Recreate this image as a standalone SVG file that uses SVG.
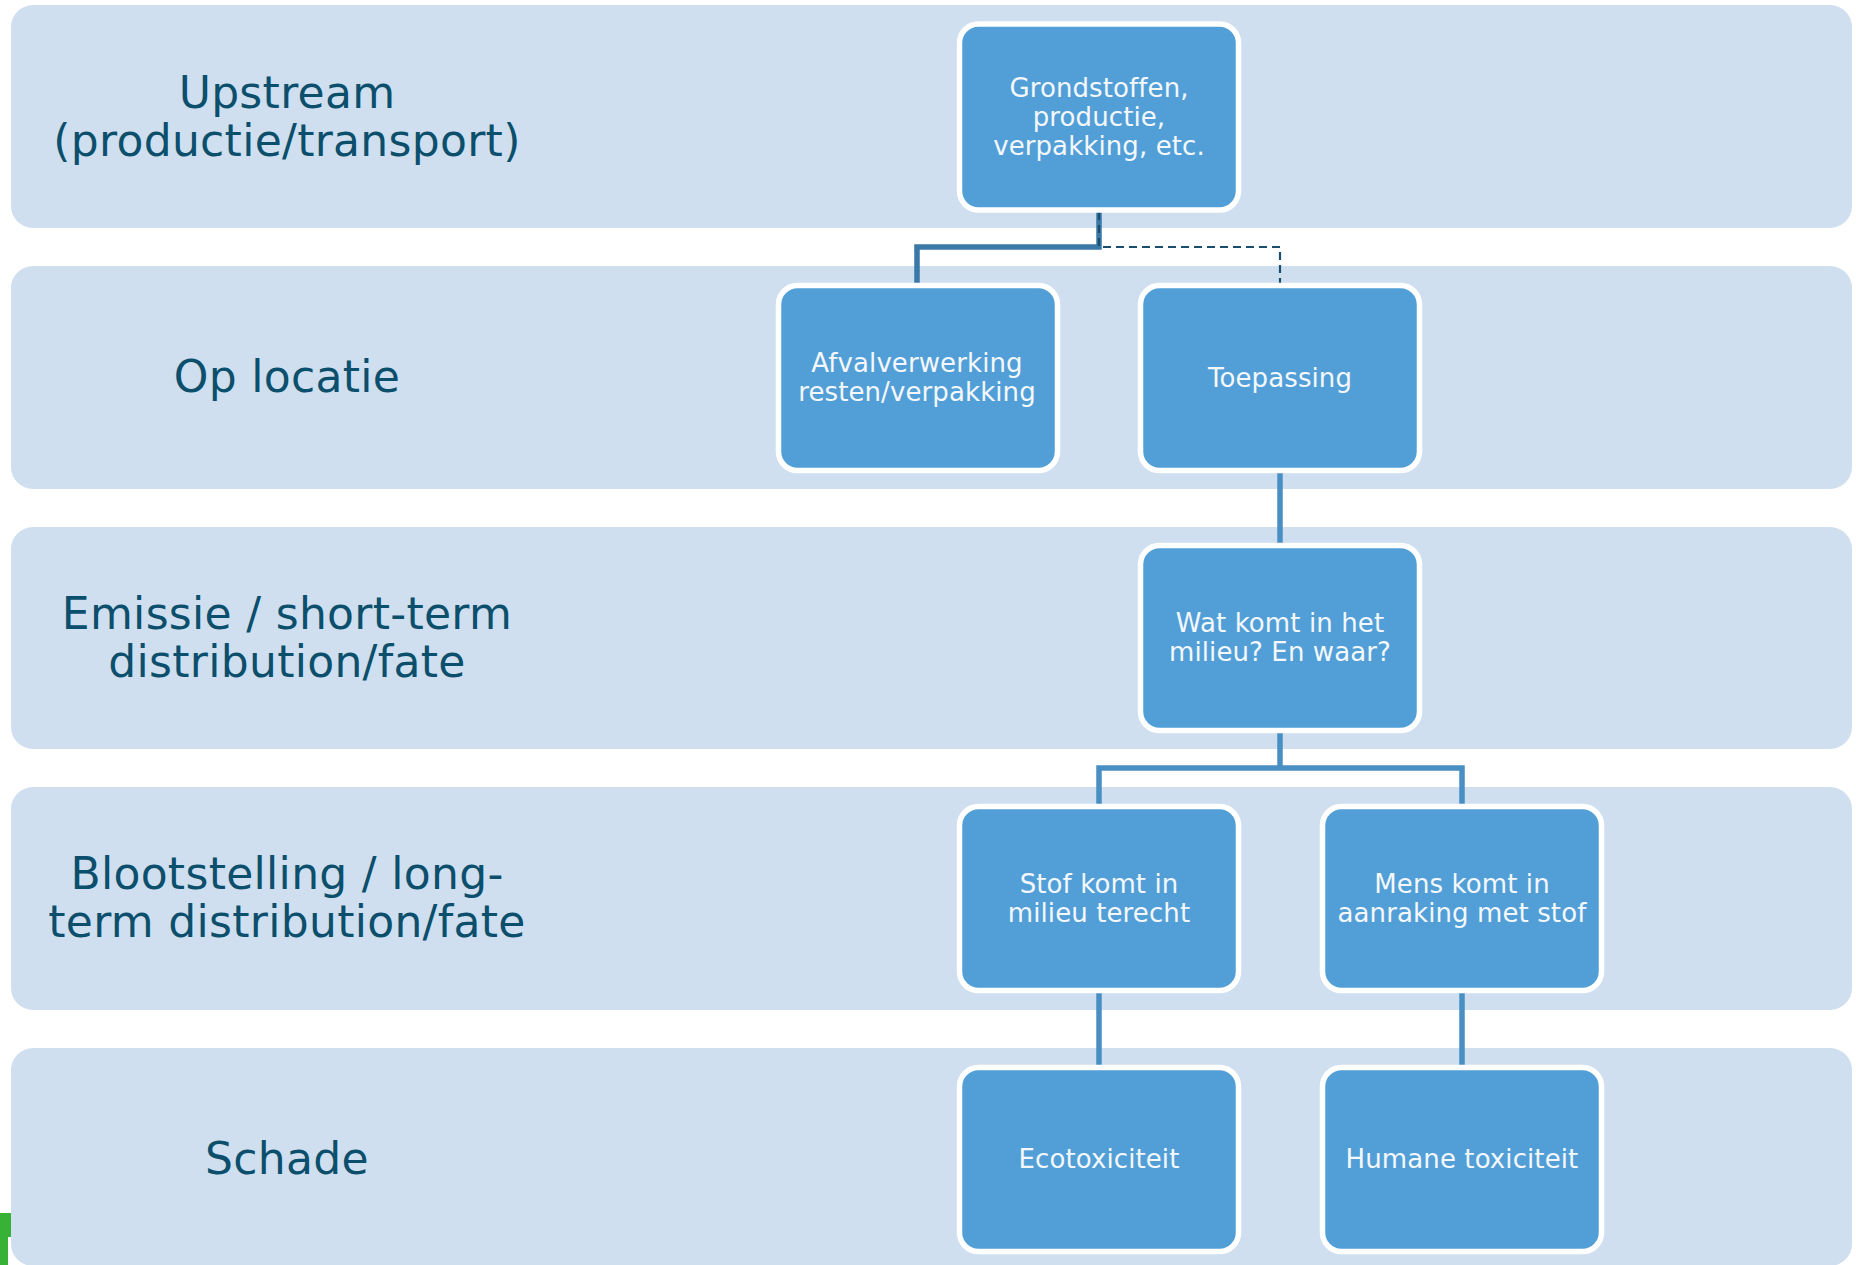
<svg xmlns="http://www.w3.org/2000/svg" width="1856" height="1265" viewBox="0 0 1856 1265">
<style>
.band{fill:#cfdfef}
.lbl{font-family:"DejaVu Sans",Verdana,sans-serif;font-size:44px;fill:#0b4f6c;text-anchor:middle;letter-spacing:0.3px}
.node rect{fill:#529fd7;stroke:#ffffff;stroke-width:5.5}
.node text{font-family:"DejaVu Sans",Verdana,sans-serif;font-size:26px;fill:#f4f8fc;text-anchor:middle;letter-spacing:0.1px}
.conn{fill:none;stroke:#4a8fc4;stroke-width:5.5}
.conn-dark{fill:none;stroke:#3a78a8;stroke-width:5.5}
.dash{fill:none;stroke:#1a4e6e;stroke-width:2.2;stroke-dasharray:8 5}
</style>
<rect width="1856" height="1265" fill="#ffffff"/>
<rect x="0" y="1213" width="11" height="24" fill="#37b236"/>
<rect x="0" y="1237" width="8" height="28" fill="#37b236"/>
<g id="bands">
<rect class="band" x="11" y="5" width="1841" height="223" rx="22"/>
<rect class="band" x="11" y="266" width="1841" height="223" rx="22"/>
<rect class="band" x="11" y="527" width="1841" height="222" rx="22"/>
<rect class="band" x="11" y="787" width="1841" height="223" rx="22"/>
<rect class="band" x="11" y="1048" width="1841" height="218" rx="22"/>
</g>
<g id="labels">
<text class="lbl" x="287" y="108">Upstream</text>
<text class="lbl" x="287" y="156">(productie/transport)</text>
<text class="lbl" x="287" y="392">Op locatie</text>
<text class="lbl" x="287" y="629">Emissie / short-term</text>
<text class="lbl" x="287" y="677">distribution/fate</text>
<text class="lbl" x="287" y="889">Blootstelling / long-</text>
<text class="lbl" x="287" y="937">term distribution/fate</text>
<text class="lbl" x="287" y="1174">Schade</text>
</g>
<g id="connectors">
<path class="conn-dark" d="M1099,212 V247 H917 V284"/>
<path class="dash" d="M1099,212 V247 H1280 V284"/>
<path class="conn" d="M1280,472 V544"/>
<path class="conn" d="M1280,732 V768 M1099,805 V768 H1462 V805"/>
<path class="conn" d="M1099,991 V1066"/>
<path class="conn" d="M1462,991 V1066"/>
</g>
<g id="node-grondstoffen" class="node">
<rect x="959.5" y="24" width="279" height="186" rx="19"/>
<text x="1099" y="97">Grondstoffen,</text>
<text x="1099" y="126">productie,</text>
<text x="1099" y="155">verpakking, etc.</text>
</g>
<g id="node-afval" class="node">
<rect x="778.5" y="285.5" width="279" height="185" rx="19"/>
<text x="917" y="372">Afvalverwerking</text>
<text x="917" y="401">resten/verpakking</text>
</g>
<g id="node-toepassing" class="node">
<rect x="1140.5" y="285.5" width="279" height="185" rx="19"/>
<text x="1280" y="387">Toepassing</text>
</g>
<g id="node-watkomt" class="node">
<rect x="1140.5" y="545.5" width="279" height="185" rx="19"/>
<text x="1280" y="632">Wat komt in het</text>
<text x="1280" y="661">milieu? En waar?</text>
</g>
<g id="node-stof" class="node">
<rect x="959.5" y="806.5" width="279" height="184" rx="19"/>
<text x="1099" y="893">Stof komt in</text>
<text x="1099" y="922">milieu terecht</text>
</g>
<g id="node-mens" class="node">
<rect x="1322.5" y="806.5" width="279" height="184" rx="19"/>
<text x="1462" y="893">Mens komt in</text>
<text x="1462" y="922">aanraking met stof</text>
</g>
<g id="node-ecotox" class="node">
<rect x="959.5" y="1067.5" width="279" height="184" rx="19"/>
<text x="1099" y="1168">Ecotoxiciteit</text>
</g>
<g id="node-humane" class="node">
<rect x="1322.5" y="1067.5" width="279" height="184" rx="19"/>
<text x="1462" y="1168">Humane toxiciteit</text>
</g>
</svg>
